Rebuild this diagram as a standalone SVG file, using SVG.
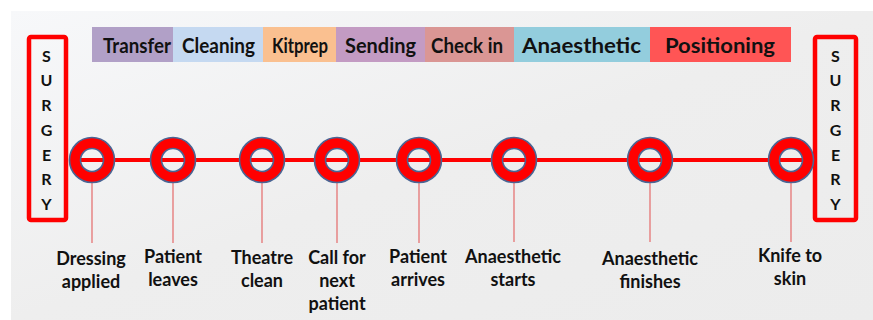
<svg xmlns="http://www.w3.org/2000/svg" width="873" height="320" viewBox="0 0 873 320">
<defs>
<linearGradient id="bg" x1="0" y1="0" x2="1" y2="1">
<stop offset="0" stop-color="#f7f8fa"/>
<stop offset="0.5" stop-color="#eeeeee"/>
<stop offset="1" stop-color="#ececec"/>
</linearGradient>
<style>
.bar{font-family:Lato,"Liberation Sans",sans-serif;font-size:20px;font-weight:700;fill:#111;text-anchor:middle}
.lbl{font-family:Lato,"Liberation Sans",sans-serif;font-size:18px;font-weight:700;fill:#111;text-anchor:middle}
.sg{font-family:Lato,"Liberation Sans",sans-serif;font-size:16px;font-weight:700;fill:#111;text-anchor:middle}
.box{fill:none;stroke:#ff0000;stroke-width:4.5}
.ringo{fill:none;stroke:#4a6594;stroke-width:1.6}
.ring{fill:none;stroke:#ff0000;stroke-width:11}
.tick{stroke:#e56a6a;stroke-width:1.2}
</style>
</defs>
<rect x="0" y="0" width="873" height="320" fill="#ffffff"/>
<rect x="11" y="11" width="862" height="309" fill="url(#bg)"/>

<g id="phases">
<rect x="92" y="27" width="81" height="35" fill="#b1a0c7"/>
<rect x="173" y="27" width="90" height="35" fill="#c5d9f1"/>
<rect x="263" y="27" width="73" height="35" fill="#fac090"/>
<rect x="336" y="27" width="89" height="35" fill="#c39bc3"/>
<rect x="425" y="27" width="89" height="35" fill="#da9694"/>
<rect x="514" y="27" width="136" height="35" fill="#93cddd"/>
<rect x="650" y="27" width="141" height="35" fill="#ff5555"/>
<text class="bar" x="137" y="53" textLength="68" lengthAdjust="spacingAndGlyphs">Transfer</text>
<text class="bar" x="218.5" y="53" textLength="73" lengthAdjust="spacingAndGlyphs">Cleaning</text>
<text class="bar" x="300" y="53" textLength="56" lengthAdjust="spacingAndGlyphs">Kitprep</text>
<text class="bar" x="380.5" y="53" textLength="71" lengthAdjust="spacingAndGlyphs">Sending</text>
<text class="bar" x="467" y="53" textLength="72" lengthAdjust="spacingAndGlyphs">Check in</text>
<text class="bar" x="581.5" y="53" textLength="119" lengthAdjust="spacingAndGlyphs">Anaesthetic</text>
<text class="bar" x="720" y="53" textLength="110" lengthAdjust="spacingAndGlyphs">Positioning</text>
</g>

<g id="surgery-left">
<rect class="box" x="29" y="37" width="37" height="183" rx="2"/>
<text class="sg" x="46.5" y="62">S</text>
<text class="sg" x="46.5" y="86">U</text>
<text class="sg" x="46.5" y="111">R</text>
<text class="sg" x="46.5" y="136">G</text>
<text class="sg" x="46.5" y="161">E</text>
<text class="sg" x="46.5" y="185">R</text>
<text class="sg" x="46.5" y="210">Y</text>
</g>

<g id="surgery-right">
<rect class="box" x="815" y="37" width="41" height="183" rx="2"/>
<text class="sg" x="835.5" y="62">S</text>
<text class="sg" x="835.5" y="86">U</text>
<text class="sg" x="835.5" y="111">R</text>
<text class="sg" x="835.5" y="136">G</text>
<text class="sg" x="835.5" y="161">E</text>
<text class="sg" x="835.5" y="185">R</text>
<text class="sg" x="835.5" y="210">Y</text>
</g>

<g id="connectors">
<line x1="78" y1="160" x2="806" y2="160" stroke="#ff0000" stroke-width="4"/>
<line class="tick" x1="92" y1="183" x2="92" y2="243"/>
<line class="tick" x1="173" y1="183" x2="173" y2="243"/>
<line class="tick" x1="262" y1="183" x2="262" y2="243"/>
<line class="tick" x1="337" y1="183" x2="337" y2="243"/>
<line class="tick" x1="419" y1="183" x2="419" y2="243"/>
<line class="tick" x1="514" y1="183" x2="514" y2="242"/>
<line class="tick" x1="650" y1="183" x2="650" y2="242"/>
<line class="tick" x1="791" y1="183" x2="791" y2="242"/>
</g>

<g id="n1"><circle class="ring" cx="92" cy="160" r="17"/><circle class="ringo" cx="92" cy="160" r="22.5"/><circle class="ringo" cx="92" cy="160" r="11.5"/>
<text class="lbl" x="91" y="265">Dressing</text><text class="lbl" x="91" y="288">applied</text></g>
<g id="n2"><circle class="ring" cx="173" cy="160" r="17"/><circle class="ringo" cx="173" cy="160" r="22.5"/><circle class="ringo" cx="173" cy="160" r="11.5"/>
<text class="lbl" x="173" y="263">Patient</text><text class="lbl" x="173" y="286">leaves</text></g>
<g id="n3"><circle class="ring" cx="262" cy="160" r="17"/><circle class="ringo" cx="262" cy="160" r="22.5"/><circle class="ringo" cx="262" cy="160" r="11.5"/>
<text class="lbl" x="262" y="264">Theatre</text><text class="lbl" x="262" y="287">clean</text></g>
<g id="n4"><circle class="ring" cx="337" cy="160" r="17"/><circle class="ringo" cx="337" cy="160" r="22.5"/><circle class="ringo" cx="337" cy="160" r="11.5"/>
<text class="lbl" x="337" y="264">Call for</text><text class="lbl" x="337" y="287">next</text><text class="lbl" x="337" y="310">patient</text></g>
<g id="n5"><circle class="ring" cx="419" cy="160" r="17"/><circle class="ringo" cx="419" cy="160" r="22.5"/><circle class="ringo" cx="419" cy="160" r="11.5"/>
<text class="lbl" x="418" y="263">Patient</text><text class="lbl" x="418" y="286">arrives</text></g>
<g id="n6"><circle class="ring" cx="514" cy="160" r="17"/><circle class="ringo" cx="514" cy="160" r="22.5"/><circle class="ringo" cx="514" cy="160" r="11.5"/>
<text class="lbl" x="513" y="263">Anaesthetic</text><text class="lbl" x="513" y="286">starts</text></g>
<g id="n7"><circle class="ring" cx="650" cy="160" r="17"/><circle class="ringo" cx="650" cy="160" r="22.5"/><circle class="ringo" cx="650" cy="160" r="11.5"/>
<text class="lbl" x="650" y="265">Anaesthetic</text><text class="lbl" x="650" y="288">finishes</text></g>
<g id="n8"><circle class="ring" cx="791" cy="160" r="17"/><circle class="ringo" cx="791" cy="160" r="22.5"/><circle class="ringo" cx="791" cy="160" r="11.5"/>
<text class="lbl" x="790" y="262">Knife to</text><text class="lbl" x="790" y="285">skin</text></g>
</svg>
